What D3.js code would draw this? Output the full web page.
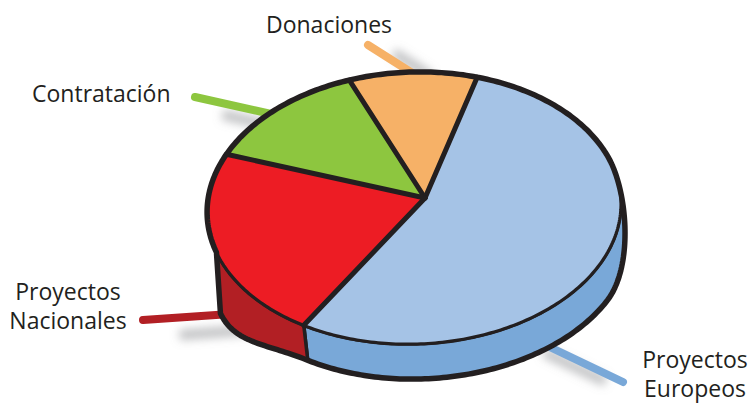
<!DOCTYPE html>
<html>
<head>
<meta charset="utf-8">
<script src="https://cdn.jsdelivr.net/npm/d3@7"></script>
<style>
body { margin: 0; background: #fff; }
text { font-family: "Open Sans", sans-serif; font-size: 23px; fill: #231f20; }
</style>
</head>
<body>
<div class="chart"></div>
<script>
const width = 751
const height = 403

// data (shares in %)
const categories = ["Donaciones", "Proyectos Europeos", "Proyectos Nacionales", "Contratación"]
const values = [10, 54, 23, 13]
const labelLines = [["Donaciones"], ["Proyectos", "Europeos"], ["Proyectos", "Nacionales"], ["Contratación"]]
const topColors = ["#f6b167", "#a5c3e6", "#ed1c24", "#8dc63f"]
const sideColors = ["#e39a4f", "#79a8d8", "#b21f24", "#6fa32f"]
const leaderColors = ["#f6b167", "#79a8d8", "#b21f24", "#8dc63f"]

// layout
const labelPos = [
    { x: 329, y: 33, anchor: "middle" },
    { x: 695, y: 368, anchor: "middle" },
    { x: 68, y: 300, anchor: "middle" },
    { x: 32, y: 102, anchor: "start" }
]
const leaders = [
    { from: [368, 45], to: [420, 78], shadow: [10, -2] },
    { from: [623, 382], to: [535, 340], shadow: [9, 12] },
    { from: [143, 320], to: [245, 313], shadow: [6, 17] },
    { from: [195, 97], to: [280, 116], shadow: [2, 12] }
]

const deg = Math.PI / 180
const cx = 414, cy = 208, rx = 207, ry = 136, rot = -2 * deg
const apex = [425, 198]
const sideStart = 72 * deg, sideEnd = 254 * deg

const svg = d3.select(".chart")
    .append("svg")
    .attr("width", width)
    .attr("height", height)

const defs = svg.append("defs")
defs.append("filter")
    .attr("id", "blur")
    .attr("filterUnits", "userSpaceOnUse")
    .attr("x", 0).attr("y", 0).attr("width", width).attr("height", height)
    .append("feGaussianBlur")
    .attr("stdDeviation", 5)

function topPt(t) {
    const x0 = rx * Math.sin(t), y0 = -ry * Math.cos(t)
    return [cx + x0 * Math.cos(rot) - y0 * Math.sin(rot), cy + x0 * Math.sin(rot) + y0 * Math.cos(rot)]
}
function smooth(u) {
    u = Math.max(0, Math.min(1, u))
    return u * u * (3 - 2 * u)
}
// the drawing is not a true cylinder: the wall gets thicker towards the left
function offset(t) {
    const T = ((t / deg) % 360 + 360) % 360
    const ramp = smooth((T - 72) / 46)
    const extra = smooth((T - 214) / 40)
    return [(4 + 5 * Math.max(0, Math.sin(t))) * ramp, 35 * ramp + 26 * extra]
}
function botPt(t) {
    const p = topPt(t), o = offset(t)
    return [p[0] + o[0], p[1] + o[1]]
}
function arcPts(f, a, b) {
    const n = Math.max(2, Math.ceil(Math.abs(b - a) / deg))
    return d3.range(n + 1).map(i => f(a + (b - a) * i / n))
}

const pie = d3.pie()
    .sort(null)
    .value(d => d)
    .startAngle(-16.9 * deg)
    .endAngle(-16.9 * deg + 2 * Math.PI)

const arcs = pie(values)
const line = d3.line()

// leader shadows and leader lines (behind the pie)
leaders.forEach((l, i) => {
    const mid = [l.from[0] + (l.to[0] - l.from[0]) * 0.3, l.from[1] + (l.to[1] - l.from[1]) * 0.3]
    svg.append("path")
        .attr("d", line([mid, l.to].map(p => [p[0] + l.shadow[0], p[1] + l.shadow[1]])))
        .attr("stroke", "#8a8c8f")
        .attr("stroke-opacity", 0.55)
        .attr("stroke-width", 10)
        .attr("filter", "url(#blur)")
})
svg.selectAll(".leader")
    .data(leaders)
    .join("path")
    .attr("class", "leader")
    .attr("d", d => line([d.from, d.to]))
    .attr("stroke", (d, i) => leaderColors[i])
    .attr("stroke-width", 8)
    .attr("stroke-linecap", "round")
    .attr("fill", "none")

// side walls
arcs.forEach((d, i) => {
    const a = Math.max(d.startAngle, sideStart)
    const b = Math.min(d.endAngle, sideEnd)
    if (b <= a) return
    const pts = arcPts(topPt, a, b).concat(arcPts(botPt, b, a))
    svg.append("path")
        .attr("d", line(pts) + "Z")
        .attr("fill", sideColors[i])
        .attr("stroke", "#231f20")
        .attr("stroke-width", 3.5)
        .attr("stroke-linejoin", "round")
})

// top face slices
svg.selectAll(".slice")
    .data(arcs)
    .join("path")
    .attr("class", "slice")
    .attr("d", d => line([apex].concat(arcPts(topPt, d.startAngle, d.endAngle))) + "Z")
    .attr("fill", (d, i) => topColors[i])

// front edge of the top face
svg.append("path")
    .attr("d", line(arcPts(topPt, sideStart, sideEnd)))
    .attr("fill", "none")
    .attr("stroke", "#231f20")
    .attr("stroke-width", 3)

// slice dividers
svg.selectAll(".divider")
    .data(arcs)
    .join("path")
    .attr("class", "divider")
    .attr("d", d => line([apex, topPt(d.startAngle)]))
    .attr("stroke", "#231f20")
    .attr("stroke-width", 5)
    .attr("stroke-linecap", "round")

// outer silhouette
const outline = arcPts(topPt, sideEnd, sideStart + 2 * Math.PI).concat(arcPts(botPt, sideStart, sideEnd))
svg.append("path")
    .attr("d", line(outline) + "Z")
    .attr("fill", "none")
    .attr("stroke", "#231f20")
    .attr("stroke-width", 5.5)
    .attr("stroke-linejoin", "round")

// labels
const labels = svg.selectAll(".label")
    .data(labelLines)
    .join("text")
    .attr("class", "label")
    .attr("text-anchor", (d, i) => labelPos[i].anchor)
    .attr("x", (d, i) => labelPos[i].x)
    .attr("y", (d, i) => labelPos[i].y)

labels.selectAll("tspan")
    .data((d, i) => d.map(s => ({ s: s, i: i })))
    .join("tspan")
    .attr("x", d => labelPos[d.i].x)
    .attr("dy", (d, j) => j === 0 ? 0 : 29)
    .text(d => d.s)
</script>
</body>
</html>
